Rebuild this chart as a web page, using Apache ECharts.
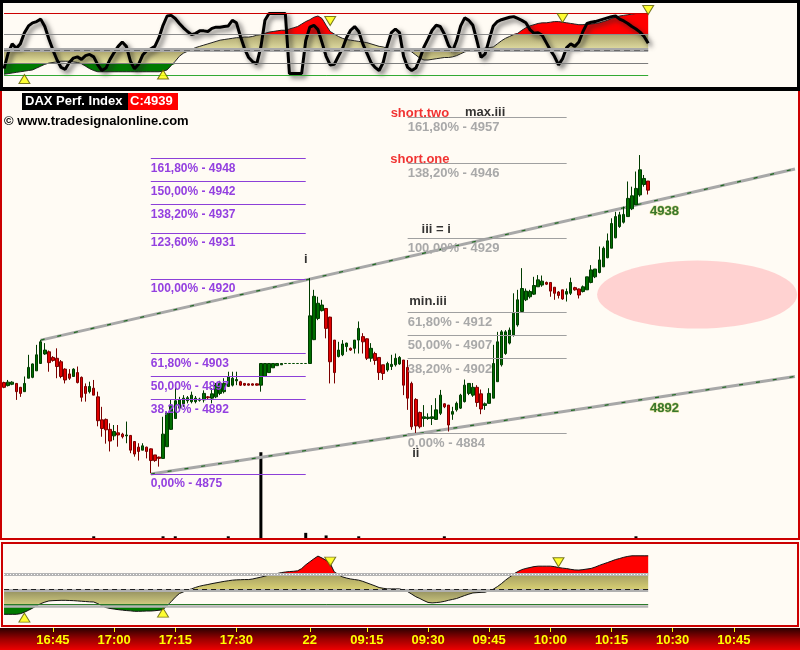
<!DOCTYPE html>
<html><head><meta charset="utf-8">
<script src="https://cdn.jsdelivr.net/npm/echarts@6/dist/echarts.min.js"></script>
<style>html,body{margin:0;padding:0;background:#fffbf4}#c{width:800px;height:650px}</style>
</head><body><div id="c"></div><script>
// ---------- DATA ----------
const sessions = [['16:33','17:47'],['09:01','11:00']];
const tickCats   = ['16:45','17:00','17:15','17:30','09:01','09:15','09:30','09:45','10:00','10:15','10:30','10:45'];
const tickLabels = ['16:45','17:00','17:15','17:30','22','09:15','09:30','09:45','10:00','10:15','10:30','10:45'];

// [open, close, low, high]
const candles = [
[4896.1,4895.0,4894.8,4896.3],[4895.4,4896.2,4895.2,4896.7],[4895.7,4896.2,4895.5,4896.4],[4895.9,4894.0,4892.1,4896.0],
[4895.0,4893.6,4892.8,4895.1],[4894.0,4895.9,4894.0,4897.5],[4897.1,4899.6,4897.1,4902.5],[4897.3,4900.4,4897.1,4900.5],
[4898.8,4902.5,4898.8,4904.8],[4900.5,4905.5,4900.5,4905.9],[4902.7,4903.6,4902.5,4905.2],[4903.2,4900.7,4898.6,4903.5],
[4901.9,4901.2,4900.9,4902.2],[4901.7,4899.8,4897.1,4904.0],[4900.9,4897.5,4897.1,4901.3],[4899.2,4896.7,4895.9,4899.4],
[4898.1,4897.1,4896.7,4899.2],[4897.5,4899.2,4897.5,4899.4],[4898.4,4896.1,4895.9,4899.8],[4897.3,4892.7,4891.7,4897.5],
[4895.2,4893.6,4891.7,4895.9],[4894.0,4895.2,4893.6,4896.3],[4894.8,4893.2,4893.2,4896.7],[4892.8,4887.3,4886.0,4894.0],
[4887.5,4885.5,4883.6,4890.5],[4887.6,4885.2,4882.0,4887.8],[4885.3,4882.6,4880.2,4886.7],[4883.8,4884.8,4882.8,4886.3],
[4884.5,4884.0,4881.3,4886.3],[4884.2,4883.6,4883.2,4884.5],[4883.8,4884.0,4882.1,4887.1],[4883.9,4880.5,4879.8,4884.0],
[4882.5,4879.6,4879.0,4882.5],[4881.2,4880.2,4878.1,4882.1],[4880.5,4881.5,4880.5,4882.1],[4881.2,4880.2,4878.6,4881.3],
[4880.8,4878.1,4875.2,4880.9],[4879.4,4878.1,4877.8,4879.4],[4878.9,4878.6,4876.7,4879.0],[4878.6,4884.2,4878.6,4888.2],
[4881.3,4889.0,4881.3,4889.4],[4885.3,4890.9,4885.2,4892.1],[4887.8,4891.9,4887.8,4895.9],[4890.2,4892.1,4889.8,4892.8],
[4891.2,4892.5,4890.5,4893.2],[4891.9,4892.6,4891.3,4893.0],[4891.7,4893.2,4891.3,4894.0],[4891.7,4892.5,4891.3,4893.0],
[4892.0,4892.3,4891.7,4892.6],[4892.1,4893.6,4891.5,4894.3],[4892.8,4892.6,4892.3,4893.0],[4892.5,4893.5,4891.3,4894.8],
[4892.8,4895.5,4892.5,4896.0],[4893.6,4895.9,4893.2,4896.5],[4894.0,4895.9,4893.6,4897.1],[4895.2,4897.5,4895.2,4898.6],
[4895.5,4897.1,4895.2,4898.6],[4896.5,4896.8,4895.5,4898.6],[4896.3,4895.5,4895.3,4896.5],[4895.9,4895.5,4895.3,4896.0],
[4895.8,4895.5,4895.4,4895.9],[4895.8,4895.5,4895.4,4895.9],[4895.8,4895.5,4895.4,4895.9],[4895.5,4900.5,4894.0,4900.5],
[4897.5,4900.5,4897.5,4900.5],[4898.4,4900.5,4898.4,4900.5],[4899.5,4900.5,4899.5,4900.5],[4900.0,4900.5,4900.0,4900.5],
[4900.2,4900.5,4900.2,4900.5],[4900.5,4900.5,4900.5,4900.5],[4900.5,4900.5,4900.5,4900.5],[4900.5,4900.5,4900.5,4900.5],
[4900.5,4900.5,4900.5,4900.5],[4900.5,4900.5,4900.5,4900.5],[4900.5,4900.5,4900.5,4900.5],[4900.5,4911.5,4900.5,4920.2],
[4906.0,4916.0,4905.9,4917.5],[4910.9,4914.4,4910.5,4915.9],[4912.7,4914.0,4912.5,4915.2],[4913.2,4908.6,4906.3,4913.2],
[4911.2,4900.9,4895.9,4911.3],[4905.9,4898.4,4895.9,4905.9],[4902.1,4903.6,4901.9,4905.5],[4902.5,4905.0,4902.2,4905.9],
[4904.4,4905.2,4903.2,4905.3],[4904.0,4903.6,4903.4,4904.2],[4904.0,4905.9,4902.8,4905.9],[4905.9,4908.6,4902.8,4910.2],
[4906.7,4905.5,4902.8,4907.5],[4906.2,4901.7,4901.3,4906.3],[4901.7,4904.0,4900.9,4905.2],[4902.8,4901.2,4900.2,4903.2],
[4901.9,4898.4,4896.7,4901.9],[4900.2,4898.2,4896.7,4900.2],[4899.0,4900.5,4898.6,4900.9],[4899.8,4900.3,4899.0,4902.5],
[4900.2,4901.7,4899.8,4902.8],[4900.4,4901.9,4900.2,4902.2],[4901.3,4895.5,4893.2,4901.3],[4899.6,4892.5,4889.8,4901.3],
[4895.9,4885.9,4885.2,4896.3],[4892.2,4886.1,4884.4,4892.5],[4889.2,4885.9,4885.5,4889.4],[4887.8,4888.2,4885.9,4890.9],
[4887.8,4888.1,4887.5,4889.0],[4887.8,4888.2,4886.3,4890.9],[4887.6,4889.8,4887.5,4892.5],[4889.0,4893.2,4888.6,4894.4],
[4891.2,4890.5,4890.2,4891.3],[4890.9,4886.3,4884.8,4890.9],[4888.8,4889.4,4887.5,4890.5],[4889.8,4891.3,4889.4,4891.7],
[4890.2,4893.2,4890.0,4893.5],[4891.7,4895.5,4891.5,4896.8],[4893.6,4895.9,4893.2,4895.9],[4893.2,4895.0,4892.8,4896.0],
[4895.0,4891.5,4890.5,4895.5],[4893.5,4890.0,4888.8,4894.5],[4890.8,4891.2,4889.8,4891.5],[4891.3,4893.6,4891.3,4894.8],
[4892.5,4900.5,4892.5,4904.8],[4896.3,4905.5,4896.3,4907.8],[4900.2,4907.8,4899.8,4908.2],[4902.8,4907.8,4902.5,4908.2],
[4905.2,4908.2,4904.9,4908.8],[4907.1,4912.1,4906.7,4916.7],[4909.4,4915.2,4909.0,4917.5],[4912.5,4917.8,4912.5,4922.5],
[4915.2,4917.2,4914.9,4917.8],[4915.9,4917.1,4915.5,4917.5],[4916.5,4918.5,4916.3,4920.5],[4918.2,4919.8,4918.2,4920.9],
[4918.6,4919.5,4918.2,4920.8],[4919.2,4918.8,4918.6,4919.4],[4919.2,4917.2,4915.9,4919.2],[4918.1,4916.7,4915.2,4918.1],
[4917.0,4916.2,4915.5,4917.2],[4917.5,4915.4,4915.2,4917.5],[4916.5,4917.1,4914.8,4917.8],[4916.7,4919.2,4916.3,4920.3],
[4918.0,4917.5,4917.3,4918.2],[4917.7,4916.3,4915.5,4917.8],[4917.1,4918.2,4916.9,4918.5],[4917.5,4920.5,4917.5,4920.5],
[4919.2,4922.1,4919.0,4923.2],[4920.5,4922.3,4920.2,4922.3],[4921.5,4924.4,4921.3,4927.5],[4922.8,4927.1,4922.8,4927.5],
[4924.9,4928.8,4924.8,4930.5],[4927.1,4932.8,4927.1,4934.0],[4929.5,4934.4,4929.4,4935.5],[4932.1,4934.8,4931.8,4935.5],
[4933.1,4934.9,4932.8,4936.7],[4934.4,4938.6,4934.4,4942.5],[4936.2,4939.2,4935.9,4941.3],[4937.1,4940.9,4937.1,4944.8],
[4939.4,4945.2,4939.0,4948.6],[4941.8,4943.2,4941.3,4944.0],[4942.6,4940.5,4939.5,4942.6]
];
// [bar index, volume]
const volumeBars = [[22,2],[39,2],[42,2],[55,2],[63,100],[74,6],[79,3],[87,2],[108,2],[155,2]];

// Fibonacci levels
const leftFibPct  = ['0,00%','38,20%','50,00%','61,80%','100,00%','123,60%','138,20%','150,00%','161,80%'];
const leftFibVal  = [4875.0,4892.2,4897.5,4902.8,4920.0,4930.6,4937.2,4942.5,4947.8];
const leftFibText = ['4875','4892','4897','4903','4920','4931','4937','4942','4948'];
const rightFibPct  = ['0,00%','38,20%','50,00%','61,80%','100,00%','138,20%','161,80%'];
const rightFibVal  = [4884.4,4901.6,4907.0,4912.3,4929.5,4946.7,4957.4];
const rightFibText = ['4884','4902','4907','4912','4929','4946','4957'];
const leftFibSpan = [36, 74];
const rightFibSpan = [99, 138];

// trend channel end points [bar, price]
const channelUpper = [[9,4905.9],[194,4945.4]];
const channelLower = [[36,4875.0],[194,4897.5]];

// annotations
const noteText  = ['i','ii','iii = i','max.iii','short.two','short.one','min.iii','4938','4892'];
const noteBar   = [74.3,101.0,106.2,118.1,102.0,102.1,104.0,161.8,161.9];
const notePrice = [4924.4,4879.8,4931.5,4958.5,4958.3,4947.5,4914.9,4935.7,4890.2];
// target zone
const targetZone = [[170.0,4916.4]];

// top oscillator
const topOsc = [10,35,50,43,50,68,79,84,86,90, 78,58,40,24,12,9,20,27,29,25, 31,33,29,16,7,11,25,36,46,53,
 46,22,10,17,32,39,42,46,60,80, 95,96,91,83,76,70,65,67,71,71, 70,75,77,77,78,79,88,84,62,42,
 28,21,18,45,88,99,99,99,99,99, 2,2,2,2,55,77,80,73,52,30, 16,17,30,42,60,72,78,70,50,35,
 20,12,7,20,47,68,74,68,30,12, 7,11,26,45,58,72,80,78,66,48, 38,55,79,92,88,80,55,28,34,57,
 79,86,89,91,93,94,91,88,84,73, 67,68,64,52,40,30,16,26,44,50, 46,53,70,83,85,86,88,90,92,94,
 95,90,87,83,78,74,69,62,51];
const topSig = [1,2,3,4,5,6,7,8,11,14, 17,19,20,21,22,22,22,21,20,18, 14,10,7,5,5,5,5,5,5,5,
 5,5,5,5,5,5,5,5,5,6, 8,15,22,30,35,38,41,44,46,48, 50,52,54,56,57,58,59,60,60,61,
 61,62,64,65,67,69,70,71,72,72, 74,76,78,82,86,89,93,95,91,80, 70,66,62,59,57,56,55,54,53,52,
 50,48,46,45,43,42,41,40,40,40, 37,32,27,24,24,25,26,27,28,28, 29,31,34,37,39,40,41,42,43,44,
 45,50,55,59,62,65,67,72,76,79, 81,83,84,84,85,86,86,85,84,83, 82,81,81,82,82,83,84,86,88,91,
 93,95,96,97,98,99,99,99,99];
const topLevels = [100,66,40,18,0];
const topTriUp = [[5,-6.7],[39,0.6]];
const topTriDown = [[80,86.9],[137,91.8],[158,104.7]];

// bottom oscillator
const botSig = [-1.69,-1.69,-1.69,-1.69,-1.65,-1.55,-1.42,-1.28,-1.12,-0.98, -0.88,-0.8,-0.78,-0.77,-0.76,-0.76,-0.77,-0.78,-0.8,-0.82,
 -0.84,-0.86,-0.87,-0.98,-1.12,-1.24,-1.3,-1.34,-1.38,-1.41, -1.44,-1.46,-1.49,-1.49,-1.48,-1.47,-1.47,-1.45,-1.42,-1.38,
 -1.1,-0.85,-0.55,-0.31,-0.2,-0.08,0,0.1,0.18,0.24, 0.29,0.35,0.4,0.45,0.5,0.54,0.58,0.6,0.61,0.62,
 0.62,0.66,0.72,0.78,0.85,0.92,0.97,1.02,1.08,1.12, 1.15,1.17,1.2,1.35,1.6,1.8,2.0,2.18,2.05,1.9,
 1.69,1.13,0.95,0.8,0.72,0.66,0.62,0.58,0.5,0.4, 0.3,0.2,0.09,0.04,0,0,0,0,-0.08,-0.18,
 -0.35,-0.52,-0.64,-0.78,-0.9,-0.93,-0.91,-0.88,-0.83,-0.76, -0.7,-0.64,-0.54,-0.44,-0.35,-0.27,-0.25,-0.23,-0.22,-0.12,
 -0.02,0.15,0.35,0.58,0.78,0.98,1.15,1.28,1.36,1.42, 1.48,1.51,1.51,1.51,1.51,1.48,1.42,1.38,1.35,1.3,
 1.26,1.25,1.28,1.32,1.36,1.45,1.56,1.66,1.75,1.85, 1.95,2.02,2.1,2.16,2.2,2.2,2.2,2.2,2.2];
const botLevels = [1,0,-1];
const botTriUp = [[5,-1.91],[39,-1.58]];
const botTriDown = [[80,1.81],[136,1.77]];

// ---------- BUILD ----------
const categories = [];
function toMin(s){const p=s.split(':').map(Number);return p[0]*60+p[1];}
function fmt(m){return String(Math.floor(m/60)).padStart(2,'0')+':'+String(m%60).padStart(2,'0');}
sessions.forEach(([a,b])=>{for(let m=toMin(a);m<=toMin(b);m++)categories.push(fmt(m));});
const LAST = topOsc.length-1;
const FONT = '"Liberation Sans", Arial, sans-serif';
const G = echarts.graphic.LinearGradient;

function clampArr(arr, lo, hi){return arr.map(v=>Math.min(Math.max(v,lo),hi));}
function fillSeries(xi, yi, data, origin, color){
  return {type:'line', xAxisIndex:xi, yAxisIndex:yi, data:data, symbol:'none', silent:true, z:2,
    lineStyle:{width:0}, areaStyle:{origin:origin, color:color, opacity:1}};
}
function hLine(xi, yi, items, z){
  return {type:'line', xAxisIndex:xi, yAxisIndex:yi, data:[], symbol:'none', silent:true, z:z,
    markLine:{silent:true, symbol:['none','none'], animation:false, label:{show:false},
      data: items.map(it=>[{coord:[categories[0], it.v], lineStyle:it.s},{coord:[categories[LAST], it.v]}])}};
}
function triSeries(xi, yi, data, down){
  return {type:'scatter', xAxisIndex:xi, yAxisIndex:yi, data:data, symbol:'triangle', symbolSize:[11,9],
    symbolRotate: down?180:0, silent:true, z:6, itemStyle:{color:'#ffff00', borderColor:'#5a5a00', borderWidth:1}};
}
function fibSeries(vals, pcts, texts, span, lineColor, textColor, fs, z){
  return {type:'line', xAxisIndex:1, yAxisIndex:1, data:[], symbol:'none', silent:true, z:z,
    markLine:{silent:true, symbol:['none','none'], animation:false,
      lineStyle:{color:lineColor, width:1, type:'solid'},
      data: vals.map((v,i)=>[{coord:[categories[span[0]], v],
          label:{show:true, position:'insideStartBottom', distance:[0,4], formatter:pcts[i]+' - '+texts[i],
                 color:textColor, fontWeight:'bold', fontSize:fs, fontFamily:FONT}},
        {coord:[categories[span[1]], v]}])}};
}

const TOP_UP=66, TOP_MID=40, TOP_LOW=18;
const BOT_UP=1, BOT_MID=0, BOT_LOW=-1;

const oliveUpTop = new G(0,0,0,1,[{offset:0,color:'#aaa26a'},{offset:1,color:'#e2dea4'}]);
const oliveDnTop = new G(0,0,0,1,[{offset:0,color:'#a49c66'},{offset:1,color:'#ebe8a2'}]);
const oliveUpBot = new G(0,0,0,1,[{offset:0,color:'#a29c62'},{offset:1,color:'#d6ce72'}]);
const oliveDnBot = new G(0,0,0,1,[{offset:0,color:'#8e8a5c'},{offset:1,color:'#cdc87e'}]);

const tickSet = new Set(tickCats);
const labelMap = {}; tickCats.forEach((c,i)=>labelMap[c]=tickLabels[i]);

const series = [
  // ---- top panel ----
  fillSeries(0,0, clampArr(topSig, TOP_MID, TOP_UP), TOP_MID, oliveUpTop),
  fillSeries(0,0, clampArr(topSig, TOP_LOW, TOP_MID), TOP_MID, oliveDnTop),
  fillSeries(0,0, topSig.map(v=>Math.max(v,TOP_UP)), TOP_UP, '#ff0000'),
  fillSeries(0,0, topSig.map(v=>Math.min(v,TOP_LOW)), TOP_LOW, '#007a00'),
  hLine(0,0,[
    {v:topLevels[0], s:{color:'#cc0000', width:1, type:'solid'}},
    {v:topLevels[1], s:{color:'#8c8c8c', width:1, type:'solid'}},
    {v:topLevels[2], s:{color:'#a9a9a9', width:4, type:'solid'}},
    {v:topLevels[2], s:{color:'#6a6a6a', width:1, type:[6,4]}},
    {v:topLevels[3], s:{color:'#7c7c7c', width:1, type:'solid'}},
    {v:topLevels[4], s:{color:'#33aa33', width:1, type:'solid'}}
  ], 3),
  {type:'line', xAxisIndex:0, yAxisIndex:0, data:topSig, symbol:'none', silent:true, z:3,
    lineStyle:{color:'#222', width:1}},
  {type:'line', xAxisIndex:0, yAxisIndex:0, data:topOsc, symbol:'none', silent:true, z:4,
    lineStyle:{color:'#000', width:3, shadowColor:'rgba(40,40,40,0.75)', shadowBlur:5, shadowOffsetX:3, shadowOffsetY:3}},
  triSeries(0,0, topTriUp, false),
  triSeries(0,0, topTriDown, true),

  // ---- main panel ----
  {type:'scatter', xAxisIndex:1, yAxisIndex:1, data:targetZone, symbol:'circle', symbolSize:[200,68],
    silent:true, z:1, itemStyle:{color:'#ffc8c8'}},
  fibSeries(rightFibVal, rightFibPct, rightFibText, rightFibSpan, '#a0a0a0', '#a9a9a9', 13, 1),
  {type:'line', xAxisIndex:1, yAxisIndex:1, data:channelUpper, symbol:'none', silent:true, z:2,
    lineStyle:{color:'#a8a8a8', width:3}},
  {type:'line', xAxisIndex:1, yAxisIndex:1, data:channelUpper, symbol:'none', silent:true, z:2,
    lineStyle:{color:'#1f6a1f', width:1.2, type:[4,13]}},
  {type:'line', xAxisIndex:1, yAxisIndex:1, data:channelLower, symbol:'none', silent:true, z:2,
    lineStyle:{color:'#a8a8a8', width:3}},
  {type:'line', xAxisIndex:1, yAxisIndex:1, data:channelLower, symbol:'none', silent:true, z:2,
    lineStyle:{color:'#1f6a1f', width:1.2, type:[4,13]}},
  {type:'bar', xAxisIndex:1, yAxisIndex:2, data:volumeBars, barWidth:3, silent:true, z:2,
    itemStyle:{color:'#000'}},
  {type:'candlestick', xAxisIndex:1, yAxisIndex:1, data:candles, barWidth:3, silent:true, z:3,
    itemStyle:{color:'#006e00', color0:'#e00000', borderColor:'#003c00', borderColor0:'#7a0000',
      borderColorDoji:'#004a00', borderWidth:1}},
  fibSeries(leftFibVal, leftFibPct, leftFibText, leftFibSpan, '#8c3fd8', '#9440e0', 12, 4),
  {type:'scatter', xAxisIndex:1, yAxisIndex:1, symbolSize:1, silent:true, z:6,
    itemStyle:{color:'transparent'},
    data: noteText.map((t,i)=>{
      const isNum = /^\d+$/.test(t), isShort = t.indexOf('short')===0;
      return {value:[noteBar[i], notePrice[i]], name:t,
        label:{show:true, position:'inside', formatter:t, fontFamily:FONT, fontWeight:'bold', fontSize:13,
          color: isShort ? '#ee0000' : (isNum ? '#0a5a0a' : '#000'),
          textBorderColor: isNum ? 'rgba(190,190,60,0.7)' : 'transparent', textBorderWidth: isNum?1:0}};
    })},

  // ---- bottom panel ----
  fillSeries(2,3, clampArr(botSig, BOT_MID, BOT_UP), BOT_MID, oliveUpBot),
  fillSeries(2,3, clampArr(botSig, BOT_LOW, BOT_MID), BOT_MID, oliveDnBot),
  fillSeries(2,3, botSig.map(v=>Math.max(v,BOT_UP)), BOT_UP, '#ff0000'),
  fillSeries(2,3, botSig.map(v=>Math.min(v,BOT_LOW)), BOT_LOW, '#007a00'),
  hLine(2,3,[
    {v:botLevels[0], s:{color:'#b4b4b4', width:3, type:'solid'}},
    {v:botLevels[0], s:{color:'#ffffff', width:1, type:[1,2]}},
    {v:botLevels[1]-0.12, s:{color:'#b0b0b0', width:3, type:'solid'}},
    {v:botLevels[1], s:{color:'#202020', width:1, type:[5,4]}},
    {v:botLevels[2]-0.13, s:{color:'#b4b4b4', width:2.5, type:'solid'}},
    {v:botLevels[2], s:{color:'#2a7a2a', width:1, type:'solid'}}
  ], 3),
  {type:'line', xAxisIndex:2, yAxisIndex:3, data:botSig, symbol:'none', silent:true, z:4,
    lineStyle:{color:'#111', width:1}},
  triSeries(2,3, botTriUp, false),
  triSeries(2,3, botTriDown, true)
];

const hiddenX = (gi)=>({type:'category', gridIndex:gi, data:categories, boundaryGap:true,
  axisLine:{show:false, onZero:false}, axisTick:{show:false}, axisLabel:{show:false}, splitLine:{show:false}});

const option = {
  animation:false,
  backgroundColor:'#fffbf4',
  grid:[
    {left:2, width:795, top:3, height:83},
    {left:2, width:795, top:92, height:446},
    {left:2, width:795, top:543, height:82}
  ],
  xAxis:[hiddenX(0), hiddenX(1),
    {type:'category', gridIndex:2, data:categories, boundaryGap:true, position:'bottom', offset:3, z:20,
      axisLine:{show:false, onZero:false}, splitLine:{show:false},
      axisTick:{show:true, length:4, alignWithLabel:true, interval:(i,v)=>tickSet.has(v), lineStyle:{color:'#ffff00', width:1}},
      axisLabel:{show:true, margin:6, interval:(i,v)=>tickSet.has(v), formatter:(v)=>labelMap[v]||'',
        color:'#ffff00', fontWeight:'bold', fontSize:13, fontFamily:FONT}}],
  yAxis:[
    {type:'value', gridIndex:0, min:-18, max:116, show:false},
    {type:'value', gridIndex:1, min:4860.23, max:4963.15, show:false},
    {type:'value', gridIndex:1, min:0, max:520, show:false},
    {type:'value', gridIndex:2, min:-2.4, max:3.05, show:false}
  ],
  graphic:[
    {type:'rect', z:-10, silent:true, shape:{x:0,y:0,width:800,height:91}, style:{fill:'#000'}},
    {type:'rect', z:-9, silent:true, shape:{x:3,y:3,width:794,height:84}, style:{fill:'#fffbf4'}},
    {type:'rect', z:-9, silent:true, shape:{x:0,y:91,width:2,height:449}, style:{fill:'#cc0000'}},
    {type:'rect', z:-9, silent:true, shape:{x:798,y:91,width:2,height:449}, style:{fill:'#cc0000'}},
    {type:'rect', z:-9, silent:true, shape:{x:0,y:538,width:800,height:2}, style:{fill:'#cc0000'}},
    {type:'rect', z:-9, silent:true, shape:{x:2,y:543,width:796,height:83}, style:{fill:'#fffbf4', stroke:'#cc0000', lineWidth:2}},
    {type:'rect', z:-9, silent:true, shape:{x:0,y:628,width:800,height:22},
      style:{fill:new G(0,0,0,1,[{offset:0,color:'#2a0000'},{offset:0.5,color:'#9a0000'},{offset:1,color:'#ee0000'}])}},
    {type:'rect', z:100, silent:true, shape:{x:22,y:93,width:106,height:17}, style:{fill:'#000'}},
    {type:'rect', z:100, silent:true, shape:{x:128,y:93,width:50,height:17}, style:{fill:'#ff0000'}},
    {type:'text', z:101, silent:true, x:25, y:101.5, style:{text:'DAX Perf. Index', fill:'#fff', font:'bold 13px '+FONT, verticalAlign:'middle'}},
    {type:'text', z:101, silent:true, x:130, y:101.5, style:{text:'C:4939', fill:'#fff', font:'bold 13px '+FONT, verticalAlign:'middle'}},
    {type:'text', z:101, silent:true, x:4, y:121.5, style:{text:'\u00a9 www.tradesignalonline.com', fill:'#000', font:'bold 13px '+FONT, verticalAlign:'middle'}}
  ],
  series: series
};
const chart = echarts.init(document.getElementById('c'), null, {renderer:'canvas'});
chart.setOption(option);
</script></body></html>
